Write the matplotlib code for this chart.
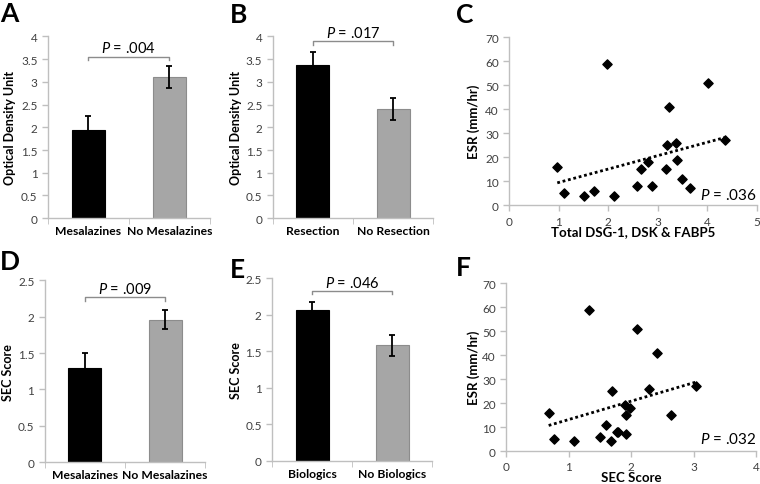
import matplotlib
matplotlib.use("Agg")
import matplotlib.pyplot as plt
import numpy as np

plt.rcParams['font.family'] = ['Lato', 'DejaVu Sans']
plt.rcParams['mathtext.fontset'] = 'custom'
plt.rcParams['mathtext.it'] = 'Lato:italic'
plt.rcParams['mathtext.rm'] = 'Lato'

# bar panels
a_groups = ["Mesalazines", "No Mesalazines"]
a_means = [1.95, 3.11]
a_errs = [0.29, 0.24]
a_p = ".004"

b_groups = ["Resection", "No Resection"]
b_means = [3.36, 2.40]
b_errs = [0.30, 0.24]
b_p = ".017"

d_groups = ["Mesalazines", "No Mesalazines"]
d_means = [1.30, 1.96]
d_errs = [0.20, 0.135]
d_p = ".009"

e_groups = ["Biologics", "No Biologics"]
e_means = [2.07, 1.58]
e_errs = [0.11, 0.145]
e_p = ".046"

# scatter panels (ESR vs marker / SEC score)
c_x = [0.97, 1.11, 1.50, 1.72, 1.97, 2.11, 2.58, 2.66, 2.81, 2.89,
       3.16, 3.19, 3.23, 3.36, 3.39, 3.48, 3.65, 4.01, 4.35]
c_y = [16, 5, 4, 6, 59, 4, 8, 15, 18, 8, 15, 25, 41, 26, 19, 11, 7, 51, 27]
c_p = ".036"

f_x = [0.68, 0.77, 1.08, 1.32, 1.50, 1.59, 1.67, 1.70, 1.77, 1.79,
       1.90, 1.92, 1.91, 1.98, 2.10, 2.28, 2.42, 2.64, 3.04]
f_y = [16, 5, 4, 59, 6, 11, 4, 25, 8, 8, 19, 15, 7, 18, 51, 26, 41, 15, 27]
f_p = ".032"

GRID = "#bfbfbf"
TXT = "#404040"

fig = plt.figure(figsize=(7.6, 4.85), dpi=100)


def style(ax):
    for s in ["top", "right"]:
        ax.spines[s].set_visible(False)
    for s in ["left", "bottom"]:
        ax.spines[s].set_color(GRID)
        ax.spines[s].set_linewidth(1)
    ax.tick_params(colors=GRID, labelcolor=TXT, labelsize=8.5, length=4, width=1)


def bar_panel(rect, groups, means, errs, ymax, ystep, ylabel, ylab_x, p, br_y, txt_y):
    ax = fig.add_axes(rect)
    style(ax)
    x = np.arange(len(groups))
    ax.bar(x, means, width=0.41, color=["black", "#a6a6a6"],
           edgecolor=["black", "#8c8c8c"], linewidth=0.8, zorder=2)
    ax.errorbar(x, means, yerr=errs, fmt="none", ecolor="black",
                elinewidth=1.3, capsize=2.5, capthick=1.3, zorder=3)
    ax.set_xlim(-0.5, 1.5)
    ax.set_ylim(0, ymax)
    ticks = np.arange(0, ymax + 0.01, ystep)
    ax.set_yticks(ticks)
    ax.set_yticklabels(["%g" % v for v in ticks])
    ax.set_xticks(x)
    ax.set_xticklabels(groups, fontweight="bold", fontsize=8.7, color="black")
    ax.tick_params(axis="x", length=0, pad=5)
    ax.set_xticks([-0.5, 0.5, 1.5], minor=True)
    ax.tick_params(axis="x", which="minor", length=4, color=GRID)
    ax.set_ylabel(ylabel, fontweight="bold", fontsize=9, color="black")
    ax.yaxis.set_label_coords(ylab_x, 0.5)
    # significance bracket
    d = ymax * 0.02
    ax.plot([0, 0, 1, 1], [br_y - d, br_y, br_y, br_y - d], color="#8c8c8c",
            lw=1, clip_on=False)
    ax.text(0.5, txt_y, r"$\it{P}$ = " + p, ha="center", va="center",
            fontsize=10.5, color="black", clip_on=False)
    return ax


def scatter_panel(rect, xs, ys, xmax, xlabel, ylab_x, p, p_y):
    ax = fig.add_axes(rect)
    style(ax)
    ax.scatter(xs, ys, marker="D", s=22, color="black", zorder=3)
    k, b = np.polyfit(xs, ys, 1)
    xl = np.array([min(xs), max(xs)])
    ax.plot(xl, k * xl + b, color="black", lw=2, ls=(0, (1, 1)), zorder=2)
    ax.set_xlim(0, xmax)
    ax.set_ylim(0, 70)
    ax.set_xticks(range(0, xmax + 1))
    ax.set_yticks(range(0, 71, 10))
    ax.set_xlabel(xlabel, fontweight="bold", fontsize=9.5, color="black")
    ax.xaxis.set_label_coords(0.5, -0.12)
    ax.set_ylabel("ESR (mm/hr)", fontweight="bold", fontsize=9.5, color="black")
    ax.yaxis.set_label_coords(ylab_x, 0.5)
    ax.text(xmax * 1.0, p_y, r"$\it{P}$ = " + p, ha="right", va="center",
            fontsize=11, color="black")
    return ax


bar_panel([0.063, 0.548, 0.213, 0.375], a_groups, a_means, a_errs, 4, 0.5,
          "Optical Density Unit", -0.20, a_p, 3.55, 3.76)
bar_panel([0.359, 0.548, 0.211, 0.375], b_groups, b_means, b_errs, 4, 0.5,
          "Optical Density Unit", -0.19, b_p, 3.90, 4.08)
bar_panel([0.059, 0.045, 0.211, 0.375], d_groups, d_means, d_errs, 2.5, 0.5,
          "SEC Score", -0.19, d_p, 2.27, 2.39)
bar_panel([0.358, 0.048, 0.211, 0.376], e_groups, e_means, e_errs, 2.5, 0.5,
          "SEC Score", -0.19, e_p, 2.33, 2.45)
scatter_panel([0.670, 0.575, 0.326, 0.346], c_x, c_y, 5,
              "Total DSG-1, DSK & FABP5", -0.117, c_p, 4.6)
scatter_panel([0.666, 0.068, 0.329, 0.346], f_x, f_y, 4, "SEC Score", -0.104,
              f_p, 5.4)

# panel letters
for lab, px, py in [("A", 0, 2), ("B", 230, 3), ("C", 456, 3),
                    ("D", 0, 250), ("E", 230, 258), ("F", 456, 256)]:
    fig.text(px / 760, 1 - py / 485, lab, fontsize=19, fontweight="bold",
             ha="left", va="top", color="black")

fig.savefig("out.png", dpi=100)
